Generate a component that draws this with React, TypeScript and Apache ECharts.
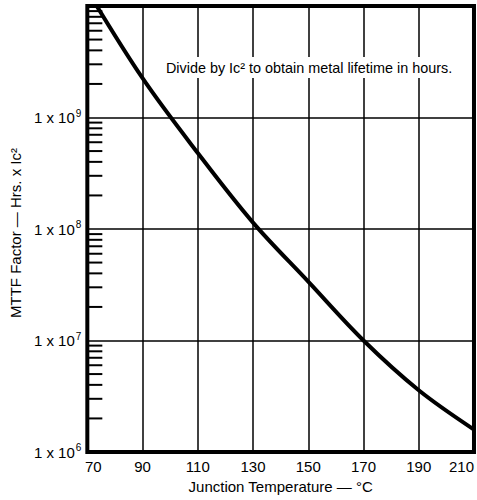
import React, { useEffect, useRef } from "react";
import * as echarts from "echarts";

// Junction temperature (°C) and MTTF factor (Hrs x Ic²)
const temperatures = [70, 90, 110, 130, 150, 170, 190, 210];
const mttfFactor = [1.38e10, 2.25e9, 4.8e8, 1.14e8, 3.37e7, 1.0e7, 3.58e6, 1.59e6];

// Axis settings
const xTicks = [70, 90, 110, 130, 150, 170, 190, 210];
const yDecades = [6, 7, 8, 9, 10];
const minorMultipliers = [2, 3, 4, 5, 6, 7, 8, 9];

const annotation = "Divide by Ic² to obtain metal lifetime in hours.";
const xTitle = "Junction Temperature — °C";
const yTitle = "MTTF Factor — Hrs. x Ic²";

export default function App() {
  const ref = useRef<HTMLDivElement>(null);
  useEffect(() => {
    if (!ref.current) return;
    const chart = echarts.init(ref.current, null, { renderer: "svg" });
    const minorTicks: number[][] = [];
    yDecades.slice(0, -1).forEach((d) => {
      minorMultipliers.forEach((m) => minorTicks.push([xTicks[0], m * Math.pow(10, d)]));
    });
    const font = "'Liberation Sans', Arial, sans-serif";
    chart.setOption({
      animation: false,
      backgroundColor: "#fff",
      grid: {
        left: 85,
        right: 3,
        top: 6,
        bottom: 48,
        show: true,
        borderColor: "#000",
        borderWidth: 4,
        backgroundColor: "transparent",
      },
      xAxis: {
        type: "value",
        min: 70,
        max: 210,
        interval: 20,
        axisLine: { show: false },
        axisTick: { show: false },
        splitLine: { show: true, lineStyle: { color: "#000", width: 1.5 } },
        axisLabel: {
          color: "#000",
          fontFamily: font,
          fontSize: 15,
          margin: 7,
          formatter: (v: number) => {
            if (v === xTicks[0]) return "{first|" + v + "}";
            if (v === xTicks[xTicks.length - 1]) return "{last|" + v + "}";
            return String(v);
          },
          rich: {
            first: { fontFamily: font, fontSize: 15, color: "#000", padding: [0, 0, 0, 12] },
            last: { fontFamily: font, fontSize: 15, color: "#000", padding: [0, 25, 0, 0] },
          },
        },
        name: xTitle,
        nameLocation: "middle",
        nameGap: 27,
        nameTextStyle: { color: "#000", fontFamily: font, fontSize: 15 },
      },
      yAxis: {
        type: "log",
        logBase: 10,
        min: 1e6,
        max: 1e10,
        axisLine: { show: false },
        axisTick: { show: false },
        splitLine: { show: true, lineStyle: { color: "#000", width: 1.5 } },
        axisLabel: {
          color: "#000",
          fontFamily: font,
          fontSize: 15,
          margin: 6,
          formatter: (v: number) => {
            const e = Math.round(Math.log10(v));
            if (e >= 10) return "";
            return "1 x 10{sup|" + e + "}";
          },
          rich: {
            sup: { fontFamily: font, fontSize: 10, color: "#000", verticalAlign: "top", padding: [0, 0, 9, 1] },
          },
        },
        name: yTitle,
        nameLocation: "middle",
        nameRotate: 90,
        nameGap: 56,
        nameTextStyle: { color: "#000", fontFamily: font, fontSize: 15, padding: [0, 8, 0, 0] },
      },
      graphic: [
        {
          type: "text",
          x: 164,
          y: 57,
          z: 10,
          scaleX: 0.96,
          style: {
            text: annotation,
            fill: "#000",
            font: "15px 'Liberation Sans', Arial, sans-serif",
            backgroundColor: "#fff",
            padding: [3, 2, 3, 2],
          },
        },
      ],
      series: [
        {
          type: "custom",
          data: minorTicks,
          encode: { x: 0, y: 1 },
          clip: false,
          z: 3,
          renderItem: (params: any, api: any) => {
            const p = api.coord([api.value(0), api.value(1)]);
            return {
              type: "line",
              shape: { x1: p[0], y1: p[1], x2: p[0] + 15, y2: p[1] },
              style: { stroke: "#000", lineWidth: 2 },
            };
          },
        },
        {
          type: "line",
          data: temperatures.map((t, i) => [t, mttfFactor[i]]),
          smooth: 0.35,
          showSymbol: false,
          clip: true,
          lineStyle: { color: "#000", width: 4 },
          z: 4,
        },
      ],
    });
    return () => chart.dispose();
  }, []);
  return <div ref={ref} style={{ width: 477, height: 500, position: "absolute", left: 0, top: 0 }} />;
}
